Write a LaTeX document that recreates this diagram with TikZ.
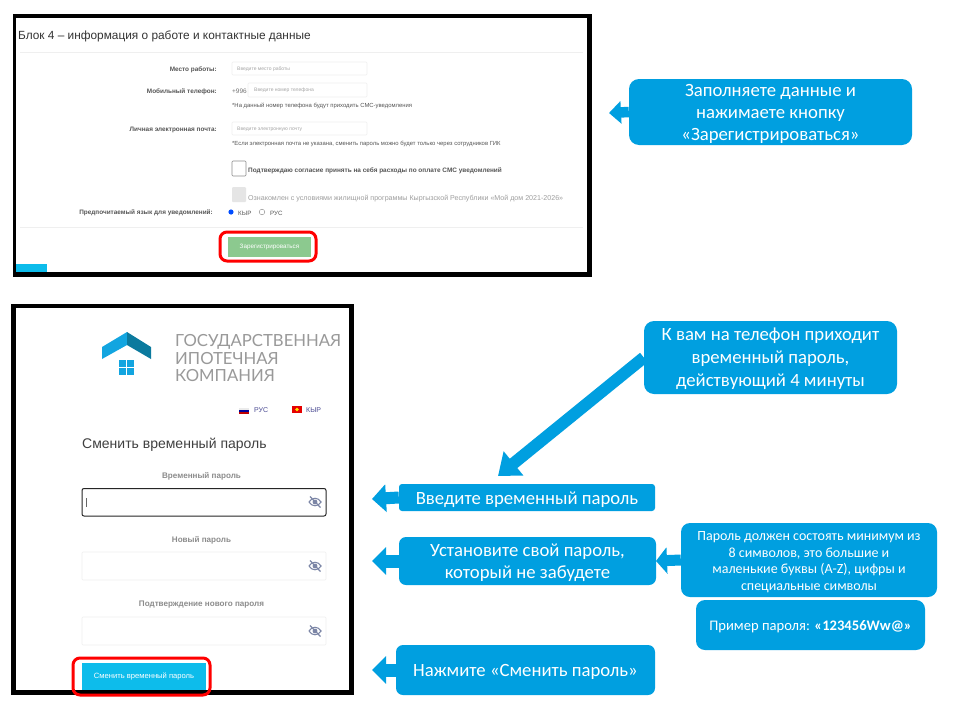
\documentclass[tikz,border=0pt]{standalone}
\usepackage{fontspec}
\setmainfont{Carlito}
\newfontfamily\uifont{Liberation Sans}
\newfontfamily\logofont{Lato}
\usetikzlibrary{arrows.meta}
\definecolor{callblue}{HTML}{009FE0}
\definecolor{btnblue}{HTML}{0DBCEB}
\definecolor{btngreen}{HTML}{8CC98F}
\definecolor{logolight}{HTML}{12A5E0}
\definecolor{logodark}{HTML}{0B7A9E}
\definecolor{eyecol}{HTML}{7C86A6}
\definecolor{linecol}{HTML}{EFEFEF}
\definecolor{uitext}{HTML}{555555}
\newcommand{\fsz}[2]{\fontsize{#1}{#2}\selectfont}
\tikzset{
  x=1pt,y=-1pt,
  callout/.style={fill=callblue,inner sep=0pt},
  calltext/.style={text=white,align=center,inner sep=0pt,font=\fsz{18.7}{22}},
  pointer/.style={draw=callblue,line width=13pt,-{Triangle[length=14pt,width=27pt]},shorten >=0pt},
  field/.style={draw=linecol,line width=.6pt,fill=white,rounded corners=1pt},
  hint/.style={anchor=west,inner sep=0pt,text=black!35,font=\uifont\fsz{5}{6}},
  flabel/.style={anchor=east,inner sep=0pt,text=uitext,font=\uifont\bfseries\fsz{6.4}{8}},
  note/.style={anchor=west,inner sep=0pt,text=uitext,font=\uifont\fsz{5.9}{7}},
  clabel/.style={inner sep=0pt,text=black!45,font=\uifont\bfseries\fsz{8.1}{10}},
  redring/.style={draw=red,line width=3pt,rounded corners=7pt},
  logotext/.style={anchor=west,inner sep=0pt,text=black!40,font=\logofont\fsz{16.7}{18}},
  eye/.pic={
    \draw[eyecol,line width=1.1pt] (-6,0) .. controls (-3,-5) and (3,-5) .. (6,0) .. controls (3,5) and (-3,5) .. (-6,0);
    \fill[eyecol] (0,0) circle (2.4);
    \draw[eyecol,line width=1.2pt] (-5,-5.5) -- (5.5,5.5);
  }
}
\begin{document}
\begin{tikzpicture}
\useasboundingbox (0,0) rectangle (954,715);
\fill[white] (0,0) rectangle (954,715);

% upper screenshot
\fill[black] (13,14) rectangle (592,277);
\fill[white] (16,18) rectangle (587,272);
\node[anchor=west,inner sep=0pt,text=black!80,font=\uifont\fsz{11.85}{14}] (title) at (18,36) {Блок 4 – информация о работе и контактные данные};
\draw[linecol] (20,52) -- (583,52);
\draw[linecol] (20,227) -- (583,227);
\node[flabel] (l1) at (217,70) {Место работы:};
\node[flabel] (l2) at (217,92) {Мобильный телефон:};
\node[flabel] (l3) at (217,130) {Личная электронная почта:};
\node[flabel] (l4) at (213,213) {Предпочитаемый язык для уведомлений:};
\draw[field] (232,62) rectangle (367,75);
\node[hint] (h1) at (237,69.5) {Введите место работы};
\node[note,text=black!55,font=\uifont\fsz{6.5}{8}] (code) at (232,91) {+996};
\draw[field] (248,83) rectangle (367,97);
\node[hint] (h2) at (254,90.5) {Введите номер телефона};
\node[note] (n1) at (232,106) {*На данный номер телефона будут приходить СМС-уведомления};
\draw[field] (232,122) rectangle (367,135);
\node[hint] (h3) at (237,129.5) {Введите электронную почту};
\node[note] (n2) at (232,144) {*Если электронная почта не указана, сменить пароль можно будет только через сотрудников ГИК};
\draw[draw=black!45,fill=white,line width=.6pt,rounded corners=1pt] (232,161) rectangle (246,176);
\node[note,font=\uifont\bfseries\fsz{6.43}{8}] (n3) at (248,171) {Подтверждаю согласие принять на себя расходы по оплате СМС уведомлений};
\fill[black!10,rounded corners=1pt] (232,187) rectangle (246,202);
\node[note,text=black!38,font=\uifont\fsz{7.1}{8}] (n4) at (248,199) {Ознакомлен с условиями жилищной программы Кыргызской Республики «Мой дом 2021-2026»};
\fill[blue!70!cyan] (231,212) circle (2.6);
\node[note,font=\uifont\fsz{6.2}{8}] (r1) at (238,213) {КЫР};
\draw[black!40,line width=.5pt] (262,212) circle (2.8);
\node[note,font=\uifont\fsz{6.2}{8}] (r2) at (270,213) {РУС};
\node[fill=btngreen,minimum width=83pt,minimum height=20pt,inner sep=0pt,text=white,font=\uifont\fsz{6.3}{8}] (regbtn) at (269.5,247) {Зарегистрироваться};
\draw[redring] (220,232) rectangle (316,261);
\fill[btnblue] (16,264) rectangle (47,272);

% lower screenshot
\fill[black] (11,304) rectangle (354,695);
\fill[white] (16,308) rectangle (349,690);
\fill[logolight] (102,347) -- (127,332) -- (127,345) -- (102,359) -- cycle;
\fill[logodark] (127,332) -- (151,347) -- (151,359) -- (127,345) -- cycle;
\fill[logolight] (119,360) rectangle (126,367);
\fill[logolight] (127,360) rectangle (134,367);
\fill[logolight] (119,368) rectangle (126,375);
\fill[logolight] (127,368) rectangle (134,375);
\node[logotext] (lg1) at (175,342) {ГОСУДАРСТВЕННАЯ};
\node[logotext] (lg2) at (175,359) {ИПОТЕЧНАЯ};
\node[logotext] (lg3) at (175,375.5) {КОМПАНИЯ};
\fill[black!8] (239,408) rectangle (249,410);
\fill[blue!60!black] (239,410) rectangle (249,412);
\fill[red!75!black] (239,412) rectangle (249,414);
\node[anchor=west,inner sep=0pt,text=blue!40!black!70,font=\uifont\fsz{7}{8}] (ru) at (254,410.5) {РУС};
\fill[red!90!black] (292,406) rectangle (302,413);
\fill[yellow!90!orange] (297,409.5) circle (1.8);
\node[anchor=west,inner sep=0pt,text=blue!40!black!70,font=\uifont\fsz{7}{8}] (ky) at (306,410.5) {КЫР};
\node[anchor=west,inner sep=0pt,text=black!75,font=\uifont\fsz{14}{16}] (chg) at (82,445) {Сменить временный пароль};
\node[clabel] (c1) at (201.5,476) {Временный пароль};
\node[clabel] (c2) at (201.5,540) {Новый пароль};
\node[clabel] (c3) at (201.5,605) {Подтверждение нового пароля};
\draw[black!85,line width=1pt,rounded corners=2pt] (82,488.5) rectangle (326,516);
\draw[black!60,line width=.5pt] (86,498) -- (86,507);
\draw[field] (82,552) rectangle (326,580);
\draw[field] (82,617) rectangle (326,645);
\pic at (315,502) {eye};
\pic at (315,566) {eye};
\pic at (315,631) {eye};
\node[fill=btnblue,minimum width=124pt,minimum height=27pt,inner sep=0pt,text=white,font=\uifont\fsz{7.6}{9}] (chgbtn) at (144,676.5) {Сменить временный пароль};
\draw[redring] (73,658) rectangle (210,695);

% callouts
\coordinate (tipA) at (609,113);
\coordinate (tipB) at (498,476);
\coordinate (tipC) at (372,499);
\coordinate (tipD) at (372,561);
\coordinate (tipE) at (656,561);
\coordinate (tipG) at (372,670);
\node[callout,rounded corners=10pt,minimum width=283pt,minimum height=66pt] (A) at (770.5,112) {};
\node[callout,rounded corners=10pt,minimum width=253pt,minimum height=73pt] (B) at (770.5,357.5) {};
\node[callout,rounded corners=3pt,minimum width=256pt,minimum height=27pt] (C) at (527,497.5) {};
\node[callout,rounded corners=7pt,minimum width=257pt,minimum height=48pt] (D) at (527.5,561) {};
\node[callout,rounded corners=9pt,minimum width=256pt,minimum height=74pt] (E) at (809,560) {};
\node[callout,rounded corners=9pt,minimum width=229pt,minimum height=50pt] (F) at (810.5,625) {};
\node[callout,rounded corners=7pt,minimum width=259pt,minimum height=50pt] (G) at (525.5,670) {};
\node[calltext] (At) at ([yshift=-2pt]A.center) {Заполняете данные и\\нажимаете кнопку\\«Зарегистрироваться»};
\node[calltext,font=\fsz{18.7}{23}] (Bt) at ([yshift=-1.5pt]B.center) {К вам на телефон приходит\\временный пароль,\\действующий 4 минуты};
\node[calltext] (Ct) at ([yshift=-2pt]C.center) {Введите временный пароль};
\node[calltext] (Dt) at ([yshift=-2pt]D.center) {Установите свой пароль,\\который не забудете};
\node[calltext,font=\fsz{14}{16.6}] (Et) at ([yshift=-2pt]E.center) {Пароль должен состоять минимум из\\8 символов, это большие и\\маленькие буквы (A-Z), цифры и\\специальные символы};
\node[calltext,font=\fsz{14.6}{16}] (Ft) at ([yshift=-2pt]F.center) {Пример пароля: \textbf{«123456Ww@»}};
\node[calltext] (Gt) at ([yshift=-2pt]G.center) {Нажмите «Сменить пароль»};
\draw[pointer,line width=10.5pt,-{Triangle[length=12pt,width=22pt]}] (A.west) -- (tipA);
\draw[pointer,line width=12pt,-{Triangle[length=20pt,width=30pt]}] (B.west) -- (tipB);
\draw[pointer,line width=12pt] (C.west) -- (tipC);
\draw[pointer] (D.west) -- (tipD);
\draw[pointer,line width=11pt,-{Triangle[length=11pt,width=26pt]}] (E.west) -- (tipE);
\draw[pointer] (G.west) -- (tipG);
\end{tikzpicture}
\end{document}
